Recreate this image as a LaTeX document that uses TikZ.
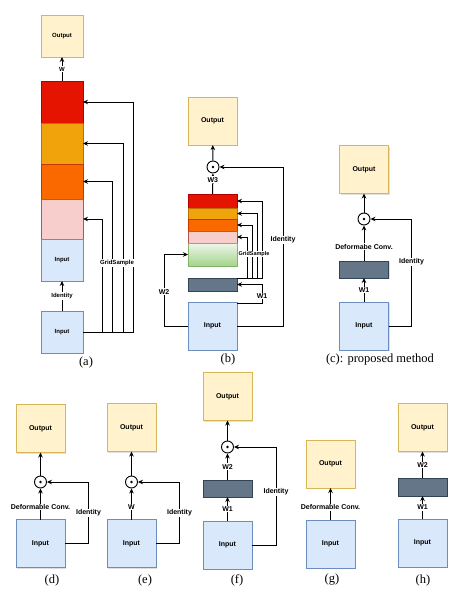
\documentclass[tikz,border=0pt]{standalone}
\usepackage{fontspec}
\setmainfont{Liberation Serif}
\newfontfamily\drawfont{Liberation Sans}
\usetikzlibrary{positioning,shadows,arrows.meta}
\definecolor{outfill}{HTML}{FFF2CC}
\definecolor{outdraw}{HTML}{D6B656}
\definecolor{infill}{HTML}{DAE8FC}
\definecolor{indraw}{HTML}{6C8EBF}
\definecolor{redfill}{HTML}{E51400}
\definecolor{reddraw}{HTML}{B20000}
\definecolor{amberfill}{HTML}{F0A30A}
\definecolor{amberdraw}{HTML}{BD7000}
\definecolor{orangefill}{HTML}{FA6800}
\definecolor{orangedraw}{HTML}{C73500}
\definecolor{pinkfill}{HTML}{F8CECC}
\definecolor{pinkdraw}{HTML}{B85450}
\definecolor{greentop}{HTML}{EEF6EC}
\definecolor{greenbot}{HTML}{A3D48A}
\definecolor{greendraw}{HTML}{82B366}
\definecolor{slatefill}{HTML}{647687}
\definecolor{slatedraw}{HTML}{314354}

\begin{document}
\begin{tikzpicture}[x=1pt,y=-1pt,
        block/.style={draw,line width=0.9pt,inner sep=0pt,outer sep=0pt,
            minimum width=49pt,minimum height=48pt,
            font=\drawfont\bfseries\fontsize{7}{8}\selectfont,
            drop shadow={shadow xshift=1pt,shadow yshift=-1pt,opacity=0.25}},
        outbox/.style={block,fill=outfill,draw=outdraw},
        inbox/.style={block,fill=infill,draw=indraw},
        layer/.style={block,minimum height=#1},
        slate/.style={block,fill=slatefill,draw=slatedraw,minimum height=#1},
        odot/.style={circle,draw,line width=0.9pt,fill=white,minimum size=12pt,inner sep=0pt,
            path picture={\fill[black] (path picture bounding box.center) circle (1.4pt);}},
        lab/.style={fill=white,inner sep=0.8pt,font=\drawfont\bfseries\fontsize{7}{8}\selectfont},
        tiny/.style={font=\drawfont\bfseries\fontsize{6}{7}\selectfont},
        subcap/.style={font=\fontsize{12.5}{14}\selectfont},
        arr/.style={line width=1pt,-{Stealth[length=5pt,width=4.5pt]}}]
    \useasboundingbox (0,0) rectangle (472,594);

    \node[outbox,tiny,minimum width=42pt,minimum height=42pt] (OutA) at (62,36) {Output};
    \node[layer=42pt,fill=redfill,draw=reddraw,minimum width=42pt] (RedA) at (62,102) {};
    \node[layer=41pt,fill=amberfill,draw=amberdraw,minimum width=42pt,below=0pt of RedA] (AmberA) {};
    \node[layer=35pt,fill=orangefill,draw=orangedraw,minimum width=42pt,below=0pt of AmberA] (OrangeA) {};
    \node[layer=40pt,fill=pinkfill,draw=pinkdraw,minimum width=42pt,below=0pt of OrangeA] (PinkA) {};
    \node[inbox,tiny,minimum width=42pt,minimum height=42pt,below=0pt of PinkA] (StackA) {Input};
    \node[inbox,tiny,minimum width=42pt,minimum height=42pt] (InA) at (62,332) {Input};
    \draw[arr] (RedA) -- node[lab,tiny]{W} (OutA);
    \draw[arr] (InA) -- node[lab,tiny]{Identity} (StackA);
    \draw[arr] (InA.east) -| ([xshift=19pt]PinkA.east) -- (PinkA.east);
    \draw[arr] (InA.east) -| ([xshift=29pt]OrangeA.east) -- (OrangeA.east);
    \draw[arr] (InA.east) -| ([xshift=40pt]AmberA.east) -- (AmberA.east);
    \draw[arr] (InA.east) -| ([xshift=50pt]RedA.east) -- (RedA.east);
    \node[lab,tiny] (GridA) at (117,263) {GridSample};
    \node[subcap] (CapA) at (86,362) {(a)};

    \node[outbox] (OutB) at (212.5,121) {Output};
    \node[odot] (DotB) at (213,167) {};
    \node[layer=14pt,fill=redfill,draw=reddraw] (RedB) at (212.5,201) {};
    \node[layer=11pt,fill=amberfill,draw=amberdraw,below=0pt of RedB] (AmberB) {};
    \node[layer=12pt,fill=orangefill,draw=orangedraw,below=0pt of AmberB] (OrangeB) {};
    \node[layer=12pt,fill=pinkfill,draw=pinkdraw,below=0pt of OrangeB] (PinkB) {};
    \node[layer=23pt,top color=greentop,bottom color=greenbot,draw=greendraw,below=0pt of PinkB] (GreenB) {};
    \node[slate=13pt] (SlateB) at (212.5,284.5) {};
    \node[inbox] (InB) at (212.5,326) {Input};
    \draw[arr] (DotB) -- (OutB);
    \draw[arr] (RedB) -- node[lab,pos=0.7]{W3} (DotB);
    \draw[arr] (InB.east) -- ++(46,0) |- node[lab,pos=0.27]{Identity} (DotB.east);
    \draw[arr] (InB.west) -- ++(-24,0) |- node[lab,pos=0.24]{W2} (GreenB.west);
    \draw[arr] ([yshift=-1.5pt]InB.north east) -| node[lab,pos=0.69]{W1} ([xshift=25pt]SlateB.east) -- (SlateB.east);
    \draw[arr] (SlateB.north east) -| ([xshift=10pt]PinkB.east) -- (PinkB.east);
    \draw[arr] (SlateB.north east) -| ([xshift=15pt]OrangeB.east) -- (OrangeB.east);
    \draw[arr] (SlateB.north east) -| ([xshift=20pt]AmberB.east) -- (AmberB.east);
    \draw[arr] (SlateB.north east) -| ([xshift=25pt]RedB.east) -- (RedB.east);
    \node[lab,font=\drawfont\bfseries\fontsize{5.5}{6.5}\selectfont] (GridB) at (254,254) {GridSample};
    \node[subcap] (CapB) at (228,359) {(b)};

    \node[outbox] (OutC) at (364,169.5) {Output};
    \node[odot] (DotC) at (364,219) {};
    \node[slate=17pt] (SlateC) at (364,269.5) {};
    \node[inbox] (InC) at (364,326) {Input};
    \draw[arr] (DotC) -- (OutC);
    \draw[arr] (SlateC) -- node[lab,pos=0.4]{Deformabe Conv.} (DotC);
    \draw[arr] (InC) -- node[lab]{W1} (SlateC);
    \draw[arr] (InC.east) -- ++(23,0) |- node[lab,pos=0.3]{Identity} (DotC.east);
    \node[subcap] (CapC) at (380,359) {(c): proposed method};

    \node[outbox] (OutD) at (40.5,428.5) {Output};
    \node[odot] (DotD) at (40.5,482) {};
    \node[inbox] (InD) at (40.5,543.5) {Input};
    \draw[arr] (DotD) -- (OutD);
    \draw[arr] (InD) -- node[lab,pos=0.4]{Deformable Conv.} (DotD);
    \draw[arr] (InD.east) -- ++(23.5,0) |- node[lab,pos=0.25]{Identity} (DotD.east);
    \node[subcap] (CapD) at (52,580) {(d)};

    \node[outbox] (OutE) at (131.5,427.5) {Output};
    \node[odot] (DotE) at (131.5,482) {};
    \node[inbox] (InE) at (131.5,543.5) {Input};
    \draw[arr] (DotE) -- (OutE);
    \draw[arr] (InE) -- node[lab,pos=0.4]{W} (DotE);
    \draw[arr] (InE.east) -- ++(23.5,0) |- node[lab,pos=0.25]{Identity} (DotE.east);
    \node[subcap] (CapE) at (145,580) {(e)};

    \node[outbox] (OutF) at (227.5,396.5) {Output};
    \node[odot] (DotF) at (227.5,447) {};
    \node[slate=17pt] (SlateF) at (227.5,488.5) {};
    \node[inbox] (InF) at (227.5,545) {Input};
    \draw[arr] (DotF) -- (OutF);
    \draw[arr] (SlateF) -- node[lab]{W2} (DotF);
    \draw[arr] (InF) -- node[lab]{W1} (SlateF);
    \draw[arr] (InF.east) -- ++(24,0) |- node[lab,pos=0.27]{Identity} (DotF.east);
    \node[subcap] (CapF) at (237,580) {(f)};

    \node[outbox] (OutG) at (330.5,464) {Output};
    \node[inbox] (InG) at (330.5,544) {Input};
    \draw[arr] (InG) -- node[lab,pos=0.4]{Deformable Conv.} (OutG);
    \node[subcap] (CapG) at (332,580) {(g)};

    \node[outbox] (OutH) at (422.5,427.5) {Output};
    \node[slate=18pt] (SlateH) at (422.5,487) {};
    \node[inbox] (InH) at (422.5,543) {Input};
    \draw[arr] (SlateH) -- node[lab]{W2} (OutH);
    \draw[arr] (InH) -- node[lab]{W1} (SlateH);
    \node[subcap] (CapH) at (423,580) {(h)};
\end{tikzpicture}
\end{document}
